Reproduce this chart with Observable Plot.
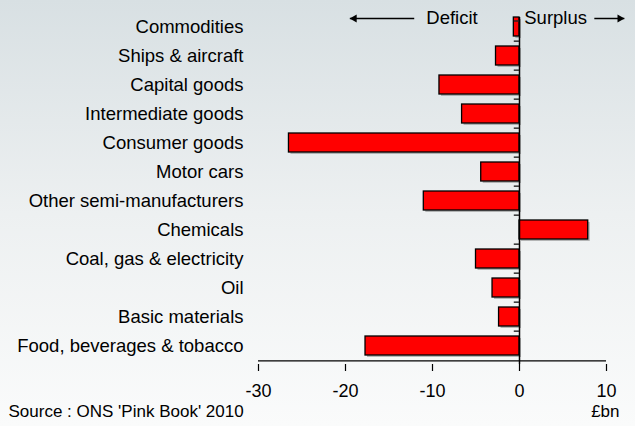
<!DOCTYPE html>
<html>
<head>
<meta charset="utf-8">
<script src="https://cdn.jsdelivr.net/npm/d3@7"></script>
<script src="https://cdn.jsdelivr.net/npm/@observablehq/plot@0.6"></script>
<style>
  html, body { margin: 0; padding: 0; background: #eef1f2; overflow: hidden; }
</style>
</head>
<body>
<div id="chart"></div>
<script>
const categories = [
  "Commodities",
  "Ships & aircraft",
  "Capital goods",
  "Intermediate goods",
  "Consumer goods",
  "Motor cars",
  "Other semi-manufacturers",
  "Chemicals",
  "Coal, gas & electricity",
  "Oil",
  "Basic materials",
  "Food, beverages & tobacco"
];
const values = [-0.65, -2.7, -9.2, -6.6, -26.5, -4.4, -11.0, 7.9, -5.0, -3.1, -2.35, -17.7];
const xTicks = [-30, -20, -10, 0, 10];
const sourceText = "Source : ONS 'Pink Book' 2010";
const unitText = "£bn";
const deficitLabel = [{label: "Deficit", x: -4.8}];
const surplusLabel = [{label: "Surplus", x: 0.55}];
const deficitArrow = [{x1: -12.1, x2: -19.5}];
const surplusArrow = [{x1: 8.6, x2: 12.05}];

const data = categories.map((c, i) => ({category: c, value: values[i]}));

const W = 635, H = 426, mT = 8, mB = 62, mL = 258, mR = 29;
const pad = 0.33;
const step = 29.68;
const half = step / 2;
const yTop = 2.76;
const yBottom = yTop + step * (categories.length + pad);
const topCat = categories[0];
const lastCat = categories[categories.length - 1];

const chart = Plot.plot({
  width: W,
  height: H,
  marginLeft: mL,
  marginRight: mR,
  marginTop: mT,
  marginBottom: mB,
  style: {
    fontFamily: "'Liberation Sans', Arial, sans-serif",
    fontSize: "18.5px",
    color: "#000",
    background: "linear-gradient(to bottom, #d8e0e3 0%, #edf0f1 50%, #fafbfb 100%)",
    overflow: "visible"
  },
  x: {domain: [-30, 10]},
  y: {domain: categories, range: [yTop, yBottom], padding: pad},
  marks: [
    Plot.barX(data, {x: "value", y: "category", fill: "#777", fillOpacity: 0.5, dx: 2, dy: 2}),
    Plot.barX(data, {x: "value", y: "category", fill: "#ff0000", stroke: "#000", strokeWidth: 1.3}),
    Plot.ruleX([0], {insetTop: 9, stroke: "#000", strokeWidth: 1.5}),
    Plot.ruleY(categories.slice(1), {y: d => d, x1: -0.6, x2: 0, dy: -half, stroke: "#222", strokeWidth: 1.4}),
    Plot.ruleY([topCat], {y: d => d, x1: -0.6, x2: 0, dy: -6, stroke: "#222", strokeWidth: 1.4}),
    Plot.ruleY([lastCat], {y: d => d, dy: half, stroke: "#000", strokeWidth: 1.3}),
    Plot.axisX({ticks: xTicks, tickSize: 7, tickPadding: 13, tickFormat: d => String(d), label: null, stroke: "#000", strokeWidth: 1.2, fontSize: 18}),
    Plot.axisY({tickSize: 0, tickPadding: 15, label: null}),
    Plot.text(deficitLabel, {x: "x", y: () => topCat, text: "label", textAnchor: "end", dy: -8.5}),
    Plot.text(surplusLabel, {x: "x", y: () => topCat, text: "label", textAnchor: "start", dy: -8.5}),
    Plot.link(deficitArrow, {x1: "x1", x2: "x2", y1: () => topCat, y2: () => topCat, dy: -8.5, stroke: "#000", strokeWidth: 1.5}),
    Plot.link(surplusArrow, {x1: "x1", x2: "x2", y1: () => topCat, y2: () => topCat, dy: -8.5, stroke: "#000", strokeWidth: 1.5}),
    Plot.dot(deficitArrow, {x: "x2", y: () => topCat, dy: -8.5, dx: 4.5, symbol: "triangle", r: 3, fill: "#000", stroke: "none", rotate: -90}),
    Plot.dot(surplusArrow, {x: "x2", y: () => topCat, dy: -8.5, dx: -4.5, symbol: "triangle", r: 3, fill: "#000", stroke: "none", rotate: 90}),
    Plot.text([sourceText], {frameAnchor: "bottom-left", text: d => d, textAnchor: "start", dx: 8 - mL, dy: 52, fontSize: 17}),
    Plot.text([unitText], {frameAnchor: "bottom-right", text: d => d, textAnchor: "end", dx: 13, dy: 52, fontSize: 17})
  ]
});
document.getElementById("chart").appendChild(chart);
</script>
</body>
</html>
